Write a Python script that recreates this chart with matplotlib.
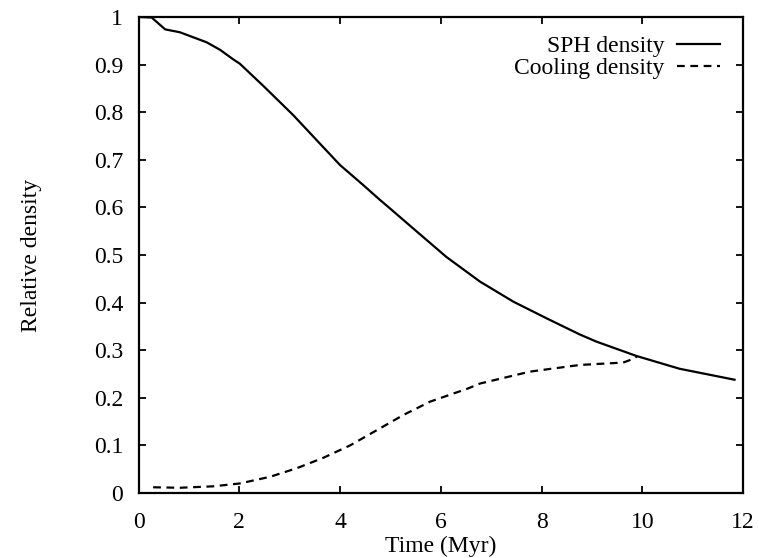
import matplotlib
matplotlib.use("Agg")
import matplotlib.pyplot as plt

# SPH density curve
sph_time = [0.0, 0.26, 0.53, 0.82, 1.35, 1.62, 1.88, 2.01, 2.48, 3.07, 3.53, 4.0,
            4.46, 4.79, 4.99, 5.45, 6.11, 6.78, 7.44, 8.1, 8.76, 9.09, 9.88,
            10.74, 11.83]
sph_density = [1.0, 0.999, 0.974, 0.968, 0.947, 0.931, 0.911, 0.902, 0.855, 0.794,
               0.742, 0.689, 0.647, 0.616, 0.598, 0.556, 0.496, 0.444, 0.402,
               0.367, 0.333, 0.318, 0.288, 0.261, 0.238]

# Cooling density curve
cool_time = [0.29, 0.82, 1.48, 2.01, 2.61, 3.14, 3.67, 4.2, 4.73, 5.26, 5.79,
             6.55, 6.78, 7.77, 8.76, 9.62, 9.85, 9.9]
cool_density = [0.012, 0.011, 0.014, 0.02, 0.034, 0.052, 0.074, 0.1, 0.132,
                0.164, 0.192, 0.22, 0.23, 0.255, 0.269, 0.274, 0.283, 0.288]

xticks = [0, 2, 4, 6, 8, 10, 12]
yticks = [0, 0.1, 0.2, 0.3, 0.4, 0.5, 0.6, 0.7, 0.8, 0.9, 1]
ytick_labels = ["0", "0.1", "0.2", "0.3", "0.4", "0.5", "0.6", "0.7", "0.8", "0.9", "1"]

plt.rcParams['font.family'] = ['Liberation Serif', 'DejaVu Serif']

fig = plt.figure(figsize=(7.59, 5.58), dpi=100)
ax = fig.add_axes([0.1825, 0.1165, 0.7965, 0.853])

ax.plot(sph_time, sph_density, color='black', lw=1.6, label='SPH density')
ax.plot(cool_time, cool_density, color='black', lw=1.6, dashes=(3.5, 2.5),
        label='Cooling density')

ax.set_xlim(0, 12)
ax.set_ylim(0, 1)
ax.set_xticks(xticks)
ax.set_xticklabels([str(t) for t in xticks])
ax.set_yticks(yticks)
ax.set_yticklabels(ytick_labels)
ax.tick_params(direction='in', length=5, width=1.3, top=True, right=True,
               labelsize=17)
ax.tick_params(axis='x', pad=14)
ax.tick_params(axis='y', pad=11)
for s in ax.spines.values():
    s.set_linewidth(1.6)

ax.set_xlabel('Time (Myr)', fontsize=17, labelpad=2)
ax.set_ylabel('Relative density', fontsize=17, labelpad=37)

leg = ax.legend(loc='upper right', bbox_to_anchor=(0.985, 0.99), frameon=False,
                markerfirst=False, fontsize=17, handlelength=1.8,
                handletextpad=0.55, labelspacing=0.0, borderaxespad=0.2)

fig.savefig('out.png', dpi=100)
